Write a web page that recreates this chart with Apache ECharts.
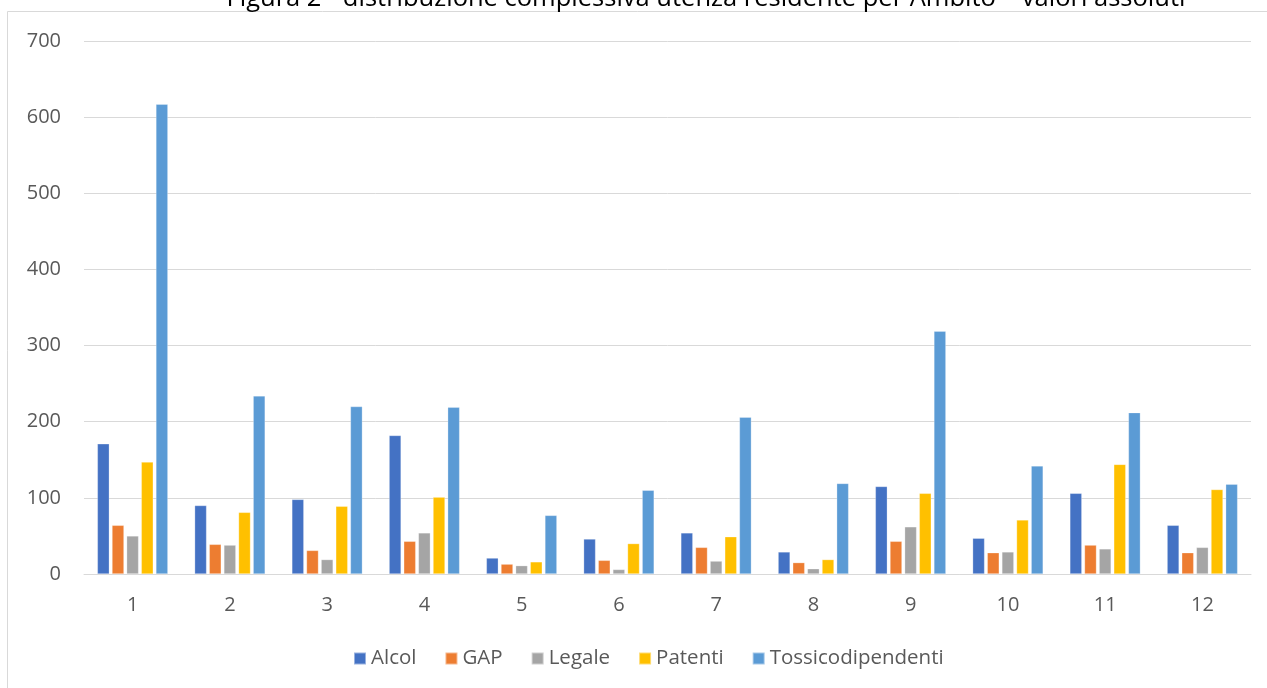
<!DOCTYPE html>
<html>
<head>
<meta charset="utf-8">
<script src="https://cdn.jsdelivr.net/npm/echarts@6/dist/echarts.min.js"></script>
<style>html,body{margin:0;padding:0;background:#fff;}#c{width:1267px;height:688px;}</style>
</head>
<body>
<div id="c"></div>
<script>
const categories = ['1','2','3','4','5','6','7','8','9','10','11','12'];
const alcol = [171, 90, 98, 182, 21, 46, 54, 29, 115, 47, 106, 64];
const gap = [64, 39, 31, 43, 13, 18, 35, 15, 43, 28, 38, 28];
const legale = [50, 38, 19, 54, 11, 6, 17, 7, 62, 29, 33, 35];
const patenti = [147, 81, 89, 101, 16, 40, 49, 19, 106, 71, 144, 111];
const tossico = [617, 234, 220, 219, 77, 110, 206, 119, 319, 142, 212, 118];
const yTicks = [0, 100, 200, 300, 400, 500, 600, 700];
const titleText = 'Figura 2 - distribuzione complessiva utenza residente per Ambito \u2013 valori assoluti';

const FONT = '"Open Sans", "Noto Sans", sans-serif';
const seriesDefs = [
  ['Alcol', alcol, '#4472C4'],
  ['GAP', gap, '#ED7D31'],
  ['Legale', legale, '#A5A5A5'],
  ['Patenti', patenti, '#FFC000'],
  ['Tossicodipendenti', tossico, '#5B9BD5']
];
const chart = echarts.init(document.getElementById('c'), null, {renderer: 'canvas'});
chart.setOption({
  animation: false,
  backgroundColor: '#fff',
  textStyle: {fontFamily: FONT},
  graphic: [
    {type: 'rect', shape: {x: 7.5, y: 11.5, width: 1400, height: 800}, style: {fill: 'none', stroke: '#D9D9D9', lineWidth: 1}, z: -10},
    {type: 'text', x: 706, y: -1, style: {text: titleText, fontFamily: FONT, fontSize: 25.5, fill: '#000', align: 'center', verticalAlign: 'middle'}}
  ],
  legend: {
    bottom: 14,
    left: 348,
    itemWidth: 12,
    itemHeight: 12,
    itemGap: 28,
    icon: 'rect',
    textStyle: {fontFamily: FONT, fontSize: 20.5, color: '#595959'},
    data: seriesDefs.map(s => s[0])
  },
  grid: {left: 84, right: 16, top: 41, height: 533, containLabel: false},
  xAxis: {
    type: 'category',
    data: categories,
    axisLine: {lineStyle: {color: '#D9D9D9', width: 1}},
    axisTick: {show: false},
    axisLabel: {fontFamily: FONT, fontSize: 20, color: '#595959', margin: 21}
  },
  yAxis: {
    type: 'value',
    min: 0, max: 700, interval: 100,
    axisLine: {show: false},
    axisTick: {show: false},
    splitLine: {lineStyle: {color: '#D9D9D9', width: 1}},
    axisLabel: {fontFamily: FONT, fontSize: 20, color: '#595959', margin: 23,
      formatter: v => yTicks.includes(v) ? String(v) : ''}
  },
  series: seriesDefs.map(s => ({
    name: s[0], type: 'bar', data: s[1], barWidth: 12, barGap: '22%',
    itemStyle: {color: s[2], borderColor: 'rgba(255,255,255,0.45)', borderWidth: 0.6}
  }))
});
</script>
</body>
</html>
